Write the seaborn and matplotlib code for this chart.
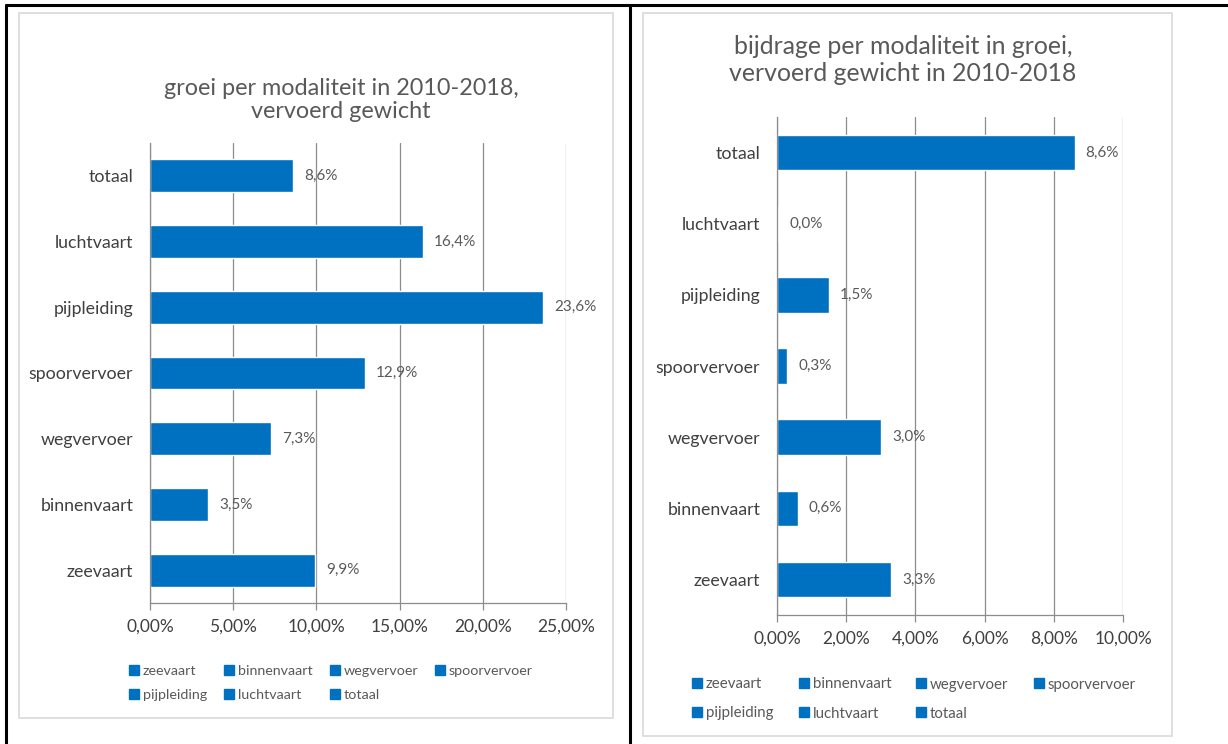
import matplotlib
matplotlib.use("Agg")
import numpy as np
import pandas as pd
import seaborn as sns
import matplotlib.pyplot as plt
from matplotlib.lines import Line2D
from matplotlib.patches import Rectangle

# Data (percentages)
categories = ["zeevaart", "binnenvaart", "wegvervoer", "spoorvervoer",
              "pijpleiding", "luchtvaart", "totaal"]
groei = [9.9, 3.5, 7.3, 12.9, 23.6, 16.4, 8.6]
bijdrage = [3.3, 0.6, 3.0, 0.3, 1.5, 0.04, 8.6]

left_title = "groei per modaliteit in 2010-2018,\nvervoerd gewicht"
right_title = "bijdrage per modaliteit in groei,\nvervoerd gewicht in 2010-2018"
left_ticks = [0, 5, 10, 15, 20, 25]
right_ticks = [0, 2, 4, 6, 8, 10]

BLUE = "#0070C0"
GRID = "#8c8c8c"
TXT = "#404040"
GREY = "#595959"

sns.set_theme(style="white")
plt.rcParams["font.family"] = ["Lato", "DejaVu Sans"]

W, H = 1228, 744
fig = plt.figure(figsize=(W / 100, H / 100), dpi=100)


def fx(px):
    return px / W


def fy(py):
    return 1 - py / H


# table frame (black) and the two chart boxes (light grey)
for (x0, y0, x1, y1) in [(6, 5, 1228, 5), (6, 5, 6, 744), (630, 5, 630, 744)]:
    fig.add_artist(Line2D([fx(x0), fx(x1)], [fy(y0), fy(y1)], color="black", lw=2.2))
for (x0, y0, x1, y1) in [(19, 13, 613, 718), (643, 13, 1172, 736)]:
    fig.add_artist(Rectangle((fx(x0), fy(y1)), fx(x1 - x0), (y1 - y0) / H,
                             fill=False, edgecolor="#d9d9d9", lw=1.2))


def draw_panel(rect, values, ticks, title, title_xy, title_fs, title_ls,
               legend_xy, leg_fs, leg_ls, leg_cs):
    ax = fig.add_axes(rect)
    df = pd.DataFrame({"modaliteit": categories, "waarde": values})
    order = categories[::-1]
    sns.barplot(data=df, x="waarde", y="modaliteit", order=order, orient="h",
                color=BLUE, saturation=1, width=0.5, ax=ax)
    ax.set_xlim(ticks[0], ticks[-1])
    ax.set_xticks(ticks)
    ax.set_xticklabels([f"{t:.2f}%".replace(".", ",") for t in ticks],
                       fontsize=12.5, color=TXT)
    ax.set_xlabel("")
    ax.set_ylabel("")
    ax.xaxis.grid(True, color=GRID, lw=0.9)
    ax.yaxis.grid(False)
    ax.set_axisbelow(True)
    for s in ["top", "right"]:
        ax.spines[s].set_visible(False)
    for s in ["left", "bottom"]:
        ax.spines[s].set_color(GRID)
        ax.spines[s].set_linewidth(0.9)
    ax.tick_params(axis="y", which="major", length=0, pad=12, labelsize=12.8,
                   labelcolor=TXT)
    ax.set_yticks(np.arange(-0.5, len(categories), 1), minor=True)
    ax.tick_params(axis="y", which="minor", length=5, color=GRID, width=0.9)
    ax.tick_params(axis="x", which="major", length=5, color=GRID, width=0.9, pad=6,
                   bottom=True)
    for i, cat in enumerate(order):
        v = values[categories.index(cat)]
        ax.annotate(f"{v:.1f}%".replace(".", ","), (v, i), xytext=(8, 0),
                    textcoords="offset points", va="center", ha="left",
                    fontsize=11, color=GREY)
    fig.text(fx(title_xy[0]), fy(title_xy[1]), title, ha="center", va="center",
             fontsize=title_fs, color=GREY, linespacing=title_ls)
    handles = [Line2D([], [], marker="s", ls="", color=BLUE, markersize=7)
               for _ in categories]
    idx = [0, 4, 1, 5, 2, 6, 3]
    ax.legend([handles[i] for i in idx], [categories[i] for i in idx],
              ncol=4, frameon=False, loc="upper left",
              bbox_to_anchor=(fx(legend_xy[0]), fy(legend_xy[1])),
              bbox_transform=fig.transFigure, fontsize=leg_fs, labelcolor=GREY,
              handletextpad=0.1, columnspacing=leg_cs, handlelength=1.0,
              labelspacing=leg_ls, borderpad=0)
    return ax


draw_panel([fx(150), fy(603), fx(566 - 150), (603 - 143) / H], groei, left_ticks,
           left_title, (341, 100), 16.8, 1.1, (120, 658), 10.3, 0.85, 1.05)
draw_panel([fx(777), fy(615), fx(1123 - 777), (615 - 117) / H], bijdrage, right_ticks,
           right_title, (903, 60), 17.9, 1.2, (682, 670), 10.8, 1.0, 1.5)

fig.savefig("out.png", dpi=100)
